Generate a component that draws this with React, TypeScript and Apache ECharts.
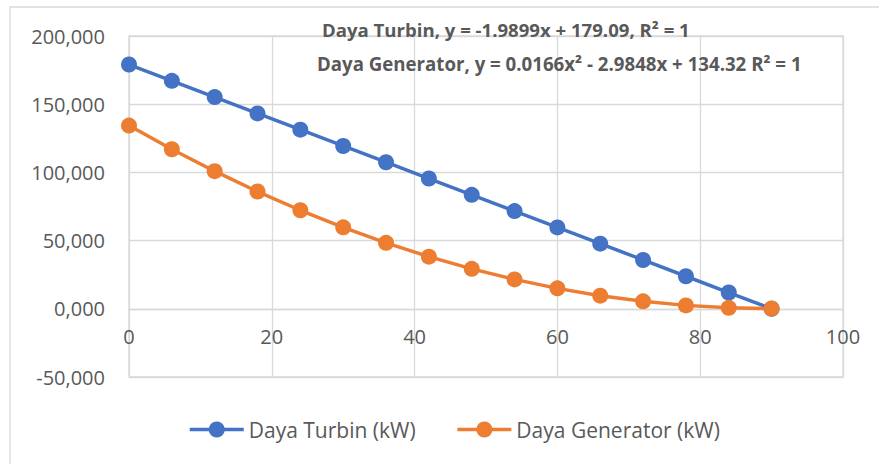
import React, { useEffect, useRef } from "react";
import * as echarts from "echarts";

const xValues = [0, 6, 12, 18, 24, 30, 36, 42, 48, 54, 60, 66, 72, 78, 84, 90];
const turbinValues = [179.09, 167.15, 155.21, 143.27, 131.33, 119.39, 107.45, 95.51, 83.57, 71.63, 59.69, 47.75, 35.81, 23.87, 11.93, 0.0];
const generatorValues = [134.32, 117.01, 100.89, 85.97, 72.24, 59.72, 48.38, 38.24, 29.3, 21.55, 14.99, 9.63, 5.46, 2.51, 0.73, 0.15];
const seriesNames = ["Daya Turbin (kW)", "Daya Generator (kW)"];
const trendLabels = [
  "Daya Turbin, y = -1.9899x + 179.09, R² = 1",
  "Daya Generator, y = 0.0166x² - 2.9848x + 134.32 R² = 1",
];

const FONT = "'Open Sans', 'Noto Sans', sans-serif";

function fitSize(text: string, targetWidth: number, fallback: number): number {
  try {
    const c = document.createElement("canvas").getContext("2d");
    if (!c) return fallback;
    c.font = `bold 100px ${FONT}`;
    const w = c.measureText(text).width;
    if (!w) return fallback;
    return (targetWidth / w) * 100;
  } catch (e) {
    return fallback;
  }
}

export default function App() {
  const ref = useRef<HTMLDivElement>(null);
  useEffect(() => {
    if (!ref.current) return;
    const chart = echarts.init(ref.current, null, { renderer: "svg" });
    const grey = "#d9d9d9";
    const txt = "#595959";
    const gridTop = 36;
    const gridBottom = 87;
    const plotH = 464 - gridTop - gridBottom;
    const yMin = -50;
    const yMax = 200;
    const zeroOffset = -plotH * (0 - yMin) / (yMax - yMin);
    const s1 = Math.min(22, Math.max(16, fitSize(trendLabels[0], 368, 18)));
    const s2 = Math.min(22, Math.max(16, fitSize(trendLabels[1], 485, 18)));
    chart.setOption({
      animation: false,
      textStyle: { fontFamily: FONT },
      grid: {
        left: 129,
        right: 36,
        top: gridTop,
        bottom: gridBottom,
        show: true,
        borderColor: grey,
        borderWidth: 1.3,
      },
      graphic: [
        {
          type: "rect",
          shape: { x: 10, y: 7, width: 900, height: 500 },
          style: { fill: "none", stroke: grey, lineWidth: 1.3 },
          silent: true,
          z: -10,
        },
        {
          type: "text",
          left: 322,
          top: 33 - s1 * 0.68,
          style: { text: trendLabels[0], fill: txt, font: `bold ${s1}px ${FONT}` },
          z: 10,
        },
        {
          type: "text",
          left: 317,
          top: 67 - s2 * 0.68,
          style: { text: trendLabels[1], fill: txt, font: `bold ${s2}px ${FONT}` },
          z: 10,
        },
      ],
      legend: {
        left: 188,
        top: 419,
        padding: 0,
        itemWidth: 54,
        itemHeight: 20,
        itemGap: 40,
        lineStyle: { width: 3.5 },
        textStyle: { color: txt, fontSize: 21, fontFamily: FONT },
        data: seriesNames,
      },
      xAxis: {
        type: "value",
        min: 0,
        max: 100,
        interval: 20,
        offset: zeroOffset,
        axisLine: { show: true, onZero: false, lineStyle: { color: grey, width: 1.3 } },
        axisTick: { show: false },
        axisLabel: { color: txt, fontSize: 20, margin: 18, fontFamily: FONT },
        splitLine: { show: true, lineStyle: { color: grey, width: 1.3 } },
      },
      yAxis: {
        type: "value",
        min: yMin,
        max: yMax,
        interval: 50,
        axisLine: { show: false },
        axisTick: { show: false },
        axisLabel: {
          color: txt,
          fontSize: 20,
          margin: 24,
          fontFamily: FONT,
          formatter: (v: number) => v.toFixed(3).replace(".", ","),
        },
        splitLine: { show: true, lineStyle: { color: grey, width: 1.3 } },
      },
      series: [
        {
          name: seriesNames[0],
          type: "line",
          data: xValues.map((x, i) => [x, turbinValues[i]]),
          symbol: "circle",
          symbolSize: 16,
          itemStyle: { color: "#4472C4" },
          lineStyle: { color: "#4472C4", width: 3.5 },
        },
        {
          name: seriesNames[1],
          type: "line",
          data: xValues.map((x, i) => [x, generatorValues[i]]),
          symbol: "circle",
          symbolSize: 16,
          itemStyle: { color: "#ED7D31" },
          lineStyle: { color: "#ED7D31", width: 3.5 },
        },
      ],
    });
    return () => chart.dispose();
  }, []);
  return (
    <div
      ref={ref}
      style={{ position: "fixed", left: 0, top: 0, width: 879, height: 464, background: "#fff" }}
    />
  );
}
